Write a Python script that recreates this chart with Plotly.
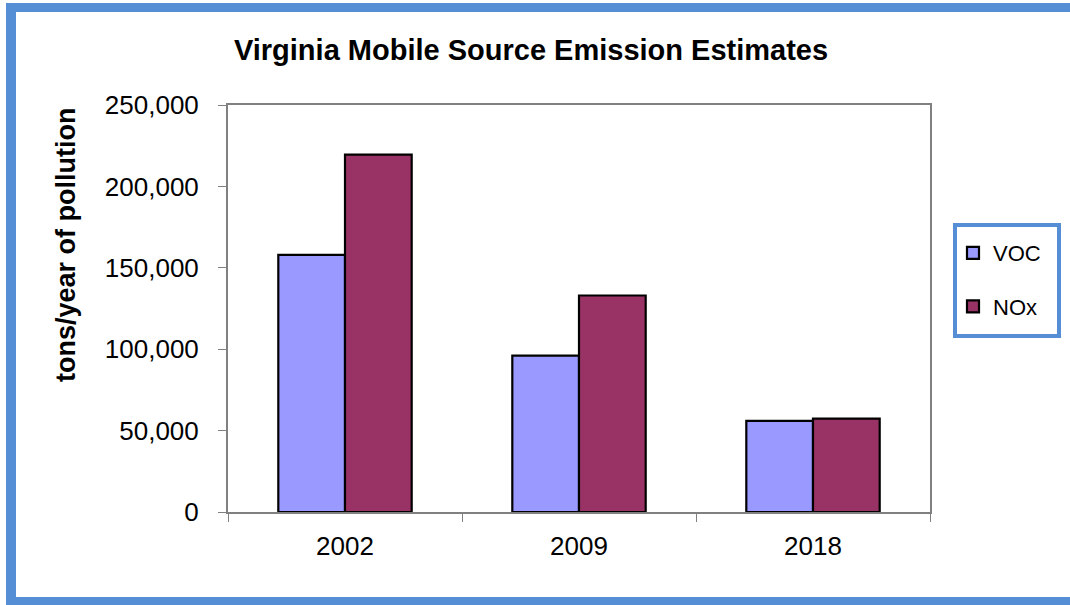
import plotly.graph_objects as go

# ---- data ----
years = ["2002", "2009", "2018"]
voc = [158000, 96000, 56000]
nox = [219500, 133000, 57300]
series_names = ["VOC", "NOx"]
y_ticks = [0, 50000, 100000, 150000, 200000, 250000]

# ---- layout geometry (pixels) ----
W, H = 1070, 605
L, R, T, B = 228, 930, 105, 512  # plot area edges


def px_x(p):
    return (p - L) / (R - L)


def px_y(p):
    return (B - p) / (B - T)


FONT = "Liberation Sans, Arial, sans-serif"
BLUE = "#558ED5"

fig = go.Figure()
fig.add_trace(go.Bar(
    x=years, y=voc, name=series_names[0], legendgroup="a",
    marker=dict(color="#9999FF", line=dict(color="#000000", width=2.2)),
))
fig.add_trace(go.Bar(
    x=years, y=nox, name=series_names[1], legendgroup="b",
    marker=dict(color="#993366", line=dict(color="#000000", width=2.2)),
))

shapes = []
# outer blue frame
for x0, y0, x1, y1 in [(6, 3, 1080, 12), (6, 3, 16, 615), (6, 597, 1080, 615)]:
    shapes.append(dict(type="rect", xref="paper", yref="paper",
                       x0=px_x(x0), x1=px_x(x1), y0=px_y(y0), y1=px_y(y1),
                       fillcolor=BLUE, line=dict(width=0), layer="above"))
# legend box
shapes.append(dict(type="rect", xref="paper", yref="paper",
                   x0=px_x(955), x1=px_x(1059), y0=px_y(225), y1=px_y(336),
                   fillcolor="rgba(0,0,0,0)", line=dict(color=BLUE, width=4), layer="above"))

fig.update_layout(
    width=W, height=H,
    margin=dict(l=L, r=W - R, t=T, b=H - B, autoexpand=False),
    paper_bgcolor="white", plot_bgcolor="white",
    barmode="group", bargap=0.43, bargroupgap=0,
    font=dict(family=FONT, color="#000000", size=26),
    title=dict(text="Virginia Mobile Source Emission Estimates",
               font=dict(family=FONT, size=29, weight="bold", color="#000000"),
               x=531 / W, xanchor="center", xref="container",
               y=1 - 50 / H, yanchor="middle", yref="container"),
    xaxis=dict(type="category", showline=True, linecolor="#808080", linewidth=2,
               mirror=True, ticks="outside", tickson="boundaries", ticklen=8,
               tickcolor="#808080", tickwidth=1, showgrid=False,
               tickfont=dict(family=FONT, size=26), ticklabelstandoff=10),
    yaxis=dict(range=[0, 250000], tickvals=y_ticks, tickformat=",d",
               showline=True, linecolor="#808080", linewidth=2, mirror=True,
               ticks="outside", ticklen=8, tickcolor="#808080", tickwidth=1,
               showgrid=False, zeroline=False,
               tickfont=dict(family=FONT, size=26), ticklabelstandoff=14),
    legend=dict(x=px_x(953), y=px_y(232), xanchor="left", yanchor="top",
                xref="paper", yref="paper",
                font=dict(family=FONT, size=22), bgcolor="rgba(0,0,0,0)",
                borderwidth=0, tracegroupgap=22, traceorder="grouped"),
    showlegend=True,
    shapes=shapes,
    annotations=[dict(text="tons/year of pollution", xref="paper", yref="paper",
                      x=px_x(66), y=px_y(245), xanchor="center", yanchor="middle",
                      textangle=-90, showarrow=False,
                      font=dict(family=FONT, size=27, weight="bold", color="#000000"))],
)

fig.write_html("out.html")
